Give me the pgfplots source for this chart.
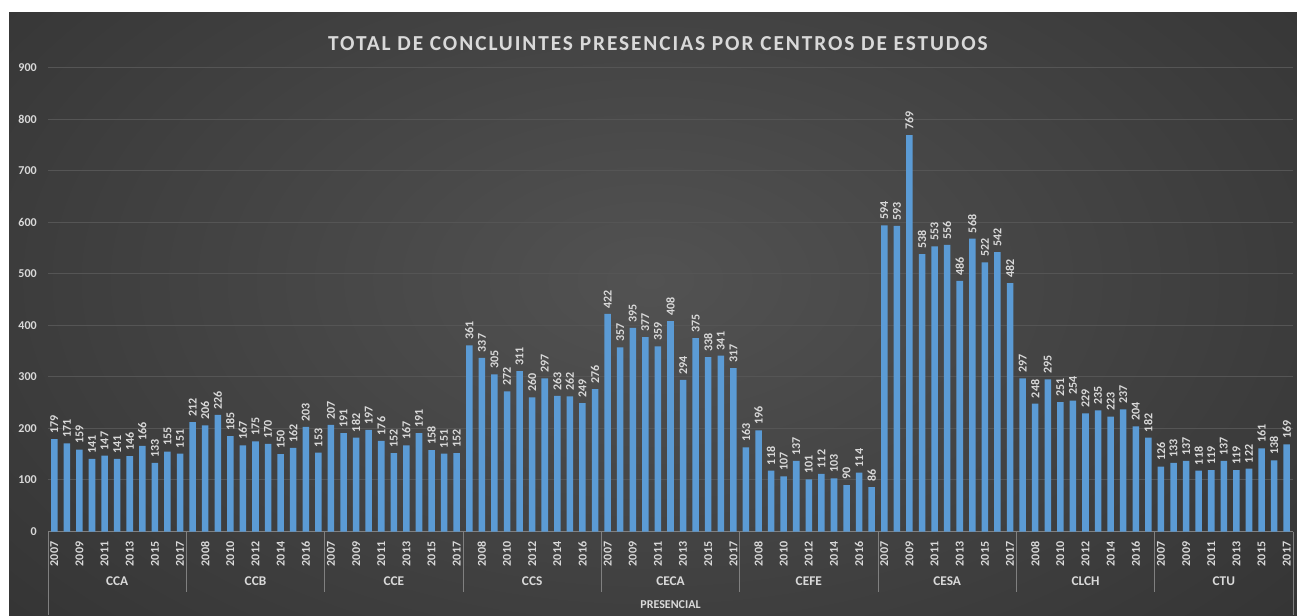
\documentclass[border=0pt]{standalone}
\usepackage{fontspec}
\setmainfont{Carlito}
\usepackage{pgfplots}
\usepackage{pgfplotstable}
\pgfplotsset{compat=1.18}

\definecolor{bgin}{HTML}{525252}
\definecolor{bgout}{HTML}{222222}
\definecolor{barblue}{HTML}{5B9BD5}
\definecolor{lbl}{HTML}{D9D9D9}
\definecolor{gridc}{HTML}{555555}
\definecolor{axc}{HTML}{808080}
\pgfdeclareradialshading{bgshade}{\pgfpoint{0bp}{0bp}}{color(0bp)=(bgin); color(50bp)=(bgout)}

% 9 centros x 11 anos (2007-2017), um indice por barra
\pgfplotstableread{
x y
0 179
1 171
2 159
3 141
4 147
5 141
6 146
7 166
8 133
9 155
10 151
11 212
12 206
13 226
14 185
15 167
16 175
17 170
18 150
19 162
20 203
21 153
22 207
23 191
24 182
25 197
26 176
27 152
28 167
29 191
30 158
31 151
32 152
33 361
34 337
35 305
36 272
37 311
38 260
39 297
40 263
41 262
42 249
43 276
44 422
45 357
46 395
47 377
48 359
49 408
50 294
51 375
52 338
53 341
54 317
55 163
56 196
57 118
58 107
59 137
60 101
61 112
62 103
63 90
64 114
65 86
66 594
67 593
68 769
69 538
70 553
71 556
72 486
73 568
74 522
75 542
76 482
77 297
78 248
79 295
80 251
81 254
82 229
83 235
84 223
85 237
86 204
87 182
88 126
89 133
90 137
91 118
92 119
93 137
94 119
95 122
96 161
97 138
98 169
}\concluintes

\begin{document}
\begin{tikzpicture}
\useasboundingbox (0pt,0pt) rectangle (972.75pt,461.25pt);
\fill[white] (0pt,0pt) rectangle (972.75pt,461.25pt);
\begin{scope}
  \clip (6.75pt,0pt) rectangle (972.75pt,451.5pt);
  \shade[shading=bgshade] (-37.5pt,-63.75pt) rectangle (1012.5pt,566.25pt);
\end{scope}

\node[text=lbl, font=\bfseries\fontsize{16}{19}\selectfont\addfontfeature{LetterSpace=9}]
  at (493.5pt,428.25pt) {TOTAL DE CONCLUINTES PRESENCIAS POR CENTROS DE ESTUDOS};

\begin{axis}[
    at={(36pt,62.625pt)}, anchor=south west,
    scale only axis,
    width=933.75pt, height=348pt,
    xmin=-0.5, xmax=98.5,
    ymin=0, ymax=900,
    ybar, bar width=4.9pt,
    clip=false,
    axis x line*=bottom, axis y line*=left,
    x axis line style={draw=axc, line width=0.75pt},
    y axis line style={draw=none},
    major tick length=0pt,
    ytick={0,100,...,900},
    ymajorgrids,
    major grid style={draw=gridc, line width=0.75pt},
    xtick={0,2,...,98},
    xticklabels={2007,2009,2011,2013,2015,2017,
                 2008,2010,2012,2014,2016,
                 2007,2009,2011,2013,2015,2017,
                 2008,2010,2012,2014,2016,
                 2007,2009,2011,2013,2015,2017,
                 2008,2010,2012,2014,2016,
                 2007,2009,2011,2013,2015,2017,
                 2008,2010,2012,2014,2016,
                 2007,2009,2011,2013,2015,2017},
    x tick label style={font=\bfseries\fontsize{9}{10}\selectfont, text=lbl,
                        rotate=90, anchor=east, inner xsep=7.5pt, inner ysep=0pt},
    yticklabel style={font=\bfseries\fontsize{9}{10}\selectfont, text=lbl,
                      inner xsep=0pt, xshift=-8.25pt},
    /pgf/number format/assume math mode=true,
    nodes near coords,
    every node near coord/.append style={font=\bfseries\fontsize{9}{10}\selectfont,
                      text=lbl, rotate=90, anchor=west, inner xsep=4pt, inner ysep=0pt},
]
\addplot[fill=barblue, draw=none] table[x=x, y=y] {\concluintes};

% separadores dos centros
\draw[axc, line width=0.75pt] (axis cs:-0.5,0) -- ([yshift=-62.625pt]axis cs:-0.5,0);
\draw[axc, line width=0.75pt] (axis cs:98.5,0) -- ([yshift=-62.625pt]axis cs:98.5,0);
\draw[axc, line width=0.75pt] (axis cs:10.5,0) -- ([yshift=-45.4pt]axis cs:10.5,0);
\draw[axc, line width=0.75pt] (axis cs:21.5,0) -- ([yshift=-45.4pt]axis cs:21.5,0);
\draw[axc, line width=0.75pt] (axis cs:32.5,0) -- ([yshift=-45.4pt]axis cs:32.5,0);
\draw[axc, line width=0.75pt] (axis cs:43.5,0) -- ([yshift=-45.4pt]axis cs:43.5,0);
\draw[axc, line width=0.75pt] (axis cs:54.5,0) -- ([yshift=-45.4pt]axis cs:54.5,0);
\draw[axc, line width=0.75pt] (axis cs:65.5,0) -- ([yshift=-45.4pt]axis cs:65.5,0);
\draw[axc, line width=0.75pt] (axis cs:76.5,0) -- ([yshift=-45.4pt]axis cs:76.5,0);
\draw[axc, line width=0.75pt] (axis cs:87.5,0) -- ([yshift=-45.4pt]axis cs:87.5,0);

\tikzset{grp/.style={text=lbl, font=\bfseries\fontsize{10}{12}\selectfont, yshift=-37.5pt}}
\node[grp] at (axis cs:5,0) {CCA};
\node[grp] at (axis cs:16,0) {CCB};
\node[grp] at (axis cs:27,0) {CCE};
\node[grp] at (axis cs:38,0) {CCS};
\node[grp] at (axis cs:49,0) {CECA};
\node[grp] at (axis cs:60,0) {CEFE};
\node[grp] at (axis cs:71,0) {CESA};
\node[grp] at (axis cs:82,0) {CLCH};
\node[grp] at (axis cs:93,0) {CTU};
\node[text=lbl, font=\bfseries\fontsize{9}{10}\selectfont, yshift=-55pt] at (axis cs:49,0) {PRESENCIAL};
\end{axis}
\end{tikzpicture}
\end{document}
